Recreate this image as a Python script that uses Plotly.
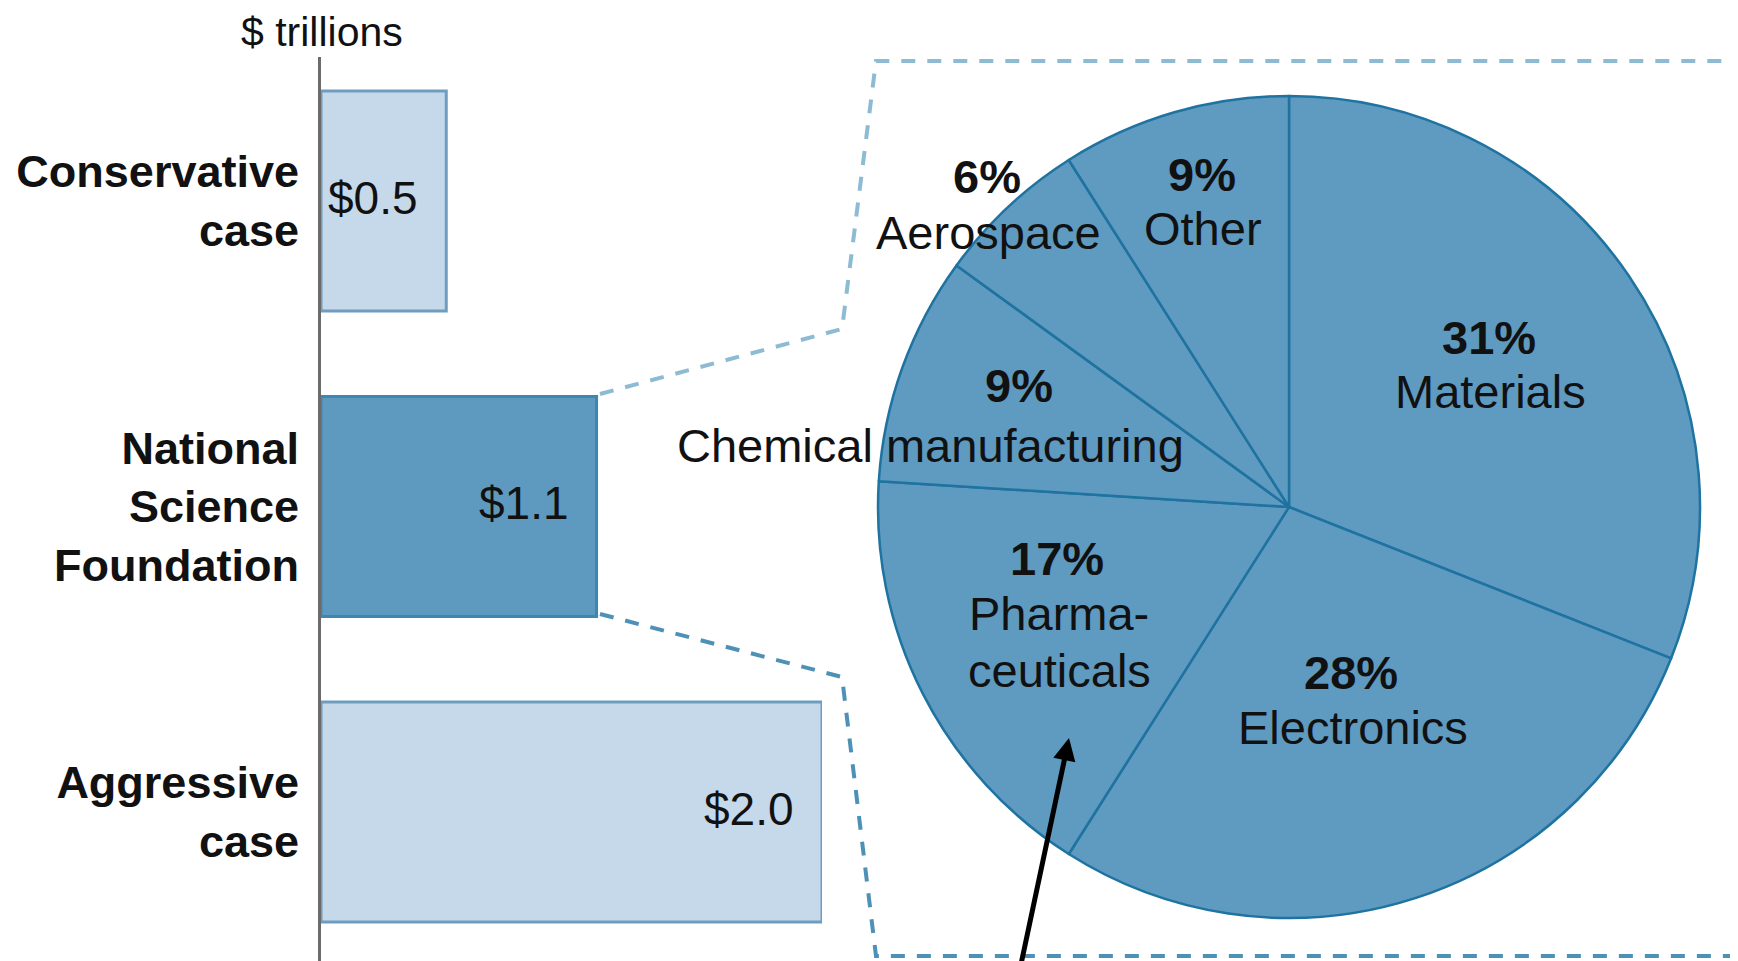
import plotly.graph_objects as go

W, H = 1738, 961
OFF = 8  # the page body adds an 8px margin around the figure

# bar data ($ trillions)
cases = ['Conservative<br>case', 'National<br>Science<br>Foundation', 'Aggressive<br>case']
values = [0.5, 1.1, 2.0]
value_labels = ['$0.5', '$1.1', '$2.0']
bar_fill = ['#C5D9EB', '#5E99BF', '#C5D9EB']
bar_line = ['#6F9DBF', '#3F86B0', '#6F9DBF']

# pie data (share of the NSF estimate, %)
sectors = ['Materials', 'Electronics', 'Pharmaceuticals', 'Chemical manufacturing', 'Aerospace', 'Other']
shares = [31, 28, 17, 9, 6, 9]
share_labels = ['31%', '28%', '17%', '9%', '6%', '9%']
sector_lines = [['Materials'], ['Electronics'], ['Pharma-', 'ceuticals'],
                ['Chemical manufacturing'], ['Aerospace'], ['Other']]

FONT = 'Liberation Sans, Arial, sans-serif'
FS = 46


def X(p):
    return (p - OFF) / W


def Y(p):
    return 1 - (p - OFF) / H


fig = go.Figure()

fig.add_trace(go.Bar(
    x=values, y=cases, orientation='h',
    marker=dict(color=bar_fill, line=dict(color=bar_line, width=3)),
    showlegend=False, hoverinfo='skip'))

fig.add_trace(go.Pie(
    labels=sectors, values=shares, sort=False, direction='clockwise', rotation=0,
    marker=dict(colors=['#5F9AC0'] * len(shares), line=dict(color='#1E73A1', width=2.5)),
    textinfo='none', showlegend=False, hoverinfo='skip',
    domain=dict(x=[X(878), X(1700)], y=[Y(918), Y(96)])))


def txt(s, px, py, bold=False, size=47):
    return dict(x=X(px), y=Y(py), xref='paper', yref='paper',
                xanchor='center', yanchor='middle', showarrow=False,
                text=f'<b>{s}</b>' if bold else s,
                font=dict(family=FONT, size=size, color='#111'))


ann = []
# value labels at the end of each bar
for v, t, c in zip(values, value_labels, cases):
    ann.append(dict(x=v, y=c, xref='x', yref='y', text=t, showarrow=False,
                    xanchor='right', yanchor='middle', xshift=-26, yshift=3,
                    font=dict(family=FONT, size=FS, color='#111')))

ann.append(txt('$ trillions', 322, 32, size=41))

# pie labels: (percent x, y) then (name x, y of first line)
label_pos = [
    (1489, 337, 1490, 391),
    (1351, 672, 1353, 727),
    (1057, 558, 1059, 613),
    (1019, 385, 930, 445),
    (987, 176, 988, 232),
    (1202, 174, 1203, 229),
]
for pct, lines, (px, py, nx, ny) in zip(share_labels, sector_lines, label_pos):
    ann.append(txt(pct, px, py, bold=True))
    for i, ln in enumerate(lines):
        ann.append(txt(ln, nx, ny + 57 * i))

# arrow pointing into the pharma slice
ann.append(dict(x=X(1069), y=Y(738), ax=-49, ay=237,
                xref='paper', yref='paper',
                text='', showarrow=True, arrowhead=2, arrowsize=0.9, arrowwidth=5,
                arrowcolor='#000'))

# dashed callout lines from the NSF bar to the pie box
dash_top = dict(color='#8DBBD3', width=4, dash='14px,12px')
dash_bot = dict(color='#4E91B6', width=4, dash='14px,12px')
shapes = [
    dict(type='path', xref='paper', yref='paper', line=dash_top,
         path=f'M {X(600)},{Y(394)} L {X(842)},{Y(329)} L {X(876)},{Y(61)} L {X(1735)},{Y(61)}'),
    dict(type='path', xref='paper', yref='paper', line=dash_bot,
         path=f'M {X(600)},{Y(614)} L {X(842)},{Y(677)} L {X(876)},{Y(956)} L {X(1735)},{Y(956)}'),
    dict(type='line', xref='paper', yref='paper', line=dash_bot,
         x0=X(1735), x1=X(1735), y0=Y(61), y1=Y(956)),
]

fig.update_layout(
    width=W, height=H,
    margin=dict(l=0, r=0, t=0, b=0, autoexpand=False),
    paper_bgcolor='white', plot_bgcolor='white',
    bargap=0.28,
    annotations=ann, shapes=shapes,
    xaxis=dict(domain=[X(321), X(822)], range=[0, 2], visible=False,
               fixedrange=True, automargin=False),
    yaxis=dict(domain=[0, Y(57)], range=[2.514, -0.471], automargin=False,
               showline=True, linecolor='#6B6B6B', linewidth=3,
               ticks='outside', ticklen=10, tickcolor='rgba(0,0,0,0)',
               showgrid=False, zeroline=False,
               tickfont=dict(family=FONT, size=45, color='#111', weight='bold')),
)

fig.write_html('out.html')
